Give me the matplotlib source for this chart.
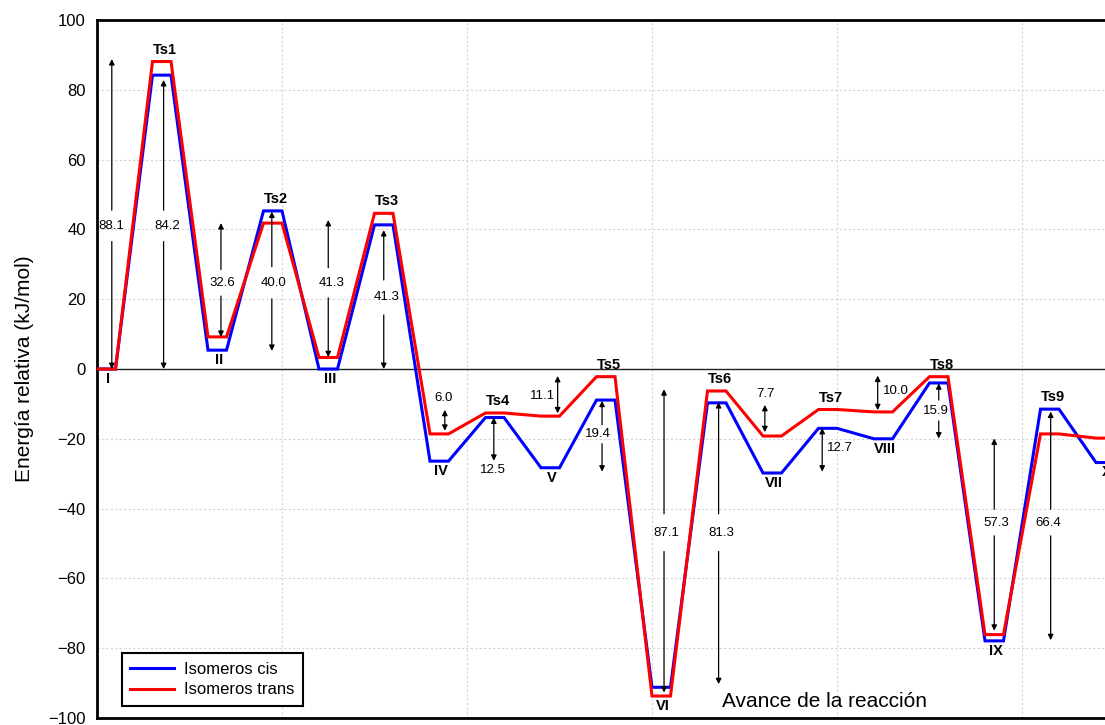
import numpy as np
import matplotlib
matplotlib.use("Agg")
import matplotlib.pyplot as plt

plt.rcParams['font.family'] = ['Liberation Sans', 'DejaVu Sans']

# --- DATA ---
levels = ["I", "Ts1", "II", "Ts2", "III", "Ts3", "IV", "Ts4", "V", "Ts5",
          "VI", "Ts6", "VII", "Ts7", "VIII", "Ts8", "IX", "Ts9", "X"]
cis = [0, 84.2, 5.4, 45.3, 0, 41.3, -26.4, -13.9, -28.3, -8.9,
       -91.2, -9.7, -29.8, -17.0, -20.0, -4.0, -77.9, -11.5, -26.8]
trans = [0, 88.1, 9.2, 41.8, 3.3, 44.6, -18.6, -12.6, -13.5, -2.2,
         -93.7, -6.3, -19.2, -11.6, -12.3, -2.2, -76.1, -18.6, -19.8]

# barrier arrows: x, top, bottom, label
arr_x = [0.8, 3.6, 6.7, 9.45, 12.5, 15.5, 18.8, 21.45, 24.9, 27.3,
         30.65, 33.6, 36.1, 39.2, 42.2, 45.5, 48.5, 51.55]
arr_top = [88.8, 82.8, 41.8, 45.1, 42.7, 39.8, -11.7, -13.9, -2.0, -9.1,
           -5.8, -9.5, -10.3, -16.9, -1.9, -4.1, -19.9, -12.2]
arr_bot = [0, 0, 9.2, 5.2, 3.4, 0, -17.7, -26.3, -12.7, -29.4,
           -92.7, -90.3, -18.1, -29.4, -11.8, -19.9, -75.0, -77.7]
arr_txt = ["88.1", "84.2", "32.6", "40.0", "41.3", "41.3", "6.0", "12.5", "11.1", "19.4",
           "87.1", "81.3", "7.7", "12.7", "10.0", "15.9", "57.3", "66.4"]
# label position; gap > 0 means the label sits inside a break of the arrow
txt_x = [0.75, 3.8, 6.8, 9.56, 12.7, 15.67, 18.75, 21.4, 24.06, 27.05,
         30.75, 33.77, 36.15, 40.15, 43.2, 45.35, 48.6, 51.4]
txt_y = [41, 41, 24.7, 24.7, 24.7, 20.5, -8.3, -28.9, -7.6, -18.7,
         -46.9, -46.9, -7.2, -22.5, -6.2, -11.9, -44.0, -44.0]
gap = [4.5, 4.5, 3.8, 4.6, 4.3, 5.0, 0, 0, 0, 2.7,
       5.4, 5.4, 0, 0, 0, 3.0, 3.8, 3.8]

# --- FIGURE ---
W, H = 1105, 725
px_unit = 18.5
fig = plt.figure(figsize=(W / 100, H / 100), dpi=100)
ax = fig.add_axes([97 / W, 7 / H, 60 * px_unit / W, 698 / H])
ax.set_xlim(0, 60)
ax.set_ylim(-100, 100)


def profile(vals):
    xs, ys = [], []
    for k, v in enumerate(vals):
        xs += [3 * k, 3 * k + 1]
        ys += [v, v]
    return xs, ys


xc, yc = profile(cis)
xt, yt = profile(trans)
ax.axhline(0, color='#222222', lw=1.0, zorder=2)
ax.plot(xc, yc, color='#0000ff', lw=2.2, label='Isomeros cis', zorder=3,
        solid_joinstyle='miter')
ax.plot(xt, yt, color='#ff0000', lw=2.2, label='Isomeros trans', zorder=4,
        solid_joinstyle='miter')

# level labels
for k, name in enumerate(levels):
    if name.startswith("Ts"):
        ax.text(3 * k + 0.65, max(cis[k], trans[k]) + 3.4, name, ha='center',
                va='center', fontsize=10.5, fontweight='bold', zorder=6)
    else:
        ax.text(3 * k + 0.6, min(cis[k], trans[k]) - 2.8, name, ha='center',
                va='center', fontsize=10.5, fontweight='bold', zorder=6)

# barrier arrows
aprops = dict(arrowstyle='-|>', color='black', lw=0.9,
              mutation_scale=8, shrinkA=0, shrinkB=0)
for i in range(len(arr_x)):
    x = arr_x[i]
    if gap[i] > 0:
        ax.annotate("", xy=(x, arr_top[i]), xytext=(x, txt_y[i] + gap[i]),
                    arrowprops=aprops, zorder=5)
        ax.annotate("", xy=(x, arr_bot[i]), xytext=(x, txt_y[i] - gap[i]),
                    arrowprops=aprops, zorder=5)
    else:
        ax.annotate("", xy=(x, arr_top[i]), xytext=(x, arr_bot[i]),
                    arrowprops=dict(aprops, arrowstyle='<|-|>'), zorder=5)
    ax.text(txt_x[i], txt_y[i], arr_txt[i], ha='center', va='center',
            fontsize=9.5, zorder=6)

ax.text(33.8, -95.3, "Avance de la reacción", fontsize=15, ha='left', va='center')

# axes styling
ax.set_yticks(np.arange(-100, 101, 20))
ax.set_xticks(np.arange(0, 61, 10))
ax.set_xticklabels([])
ax.tick_params(axis='both', length=0, labelsize=12)
ax.tick_params(axis='y', pad=8)
ax.grid(True, color='#d4d4d4', lw=0.8, linestyle=(0, (2, 2)), zorder=0)
ax.set_axisbelow(True)
for s in ax.spines.values():
    s.set_linewidth(2.0)
ax.set_ylabel("Energía relativa (kJ/mol)", fontsize=15, labelpad=10)

leg = ax.legend(loc='lower left', bbox_to_anchor=(0.0225, 0.0176), borderaxespad=0,
                fontsize=12, fancybox=False, edgecolor='black', framealpha=1,
                handlelength=2.6, handletextpad=0.65, borderpad=0.5, labelspacing=0.35)
leg.get_frame().set_linewidth(1.5)

fig.savefig("out.png", dpi=100)
